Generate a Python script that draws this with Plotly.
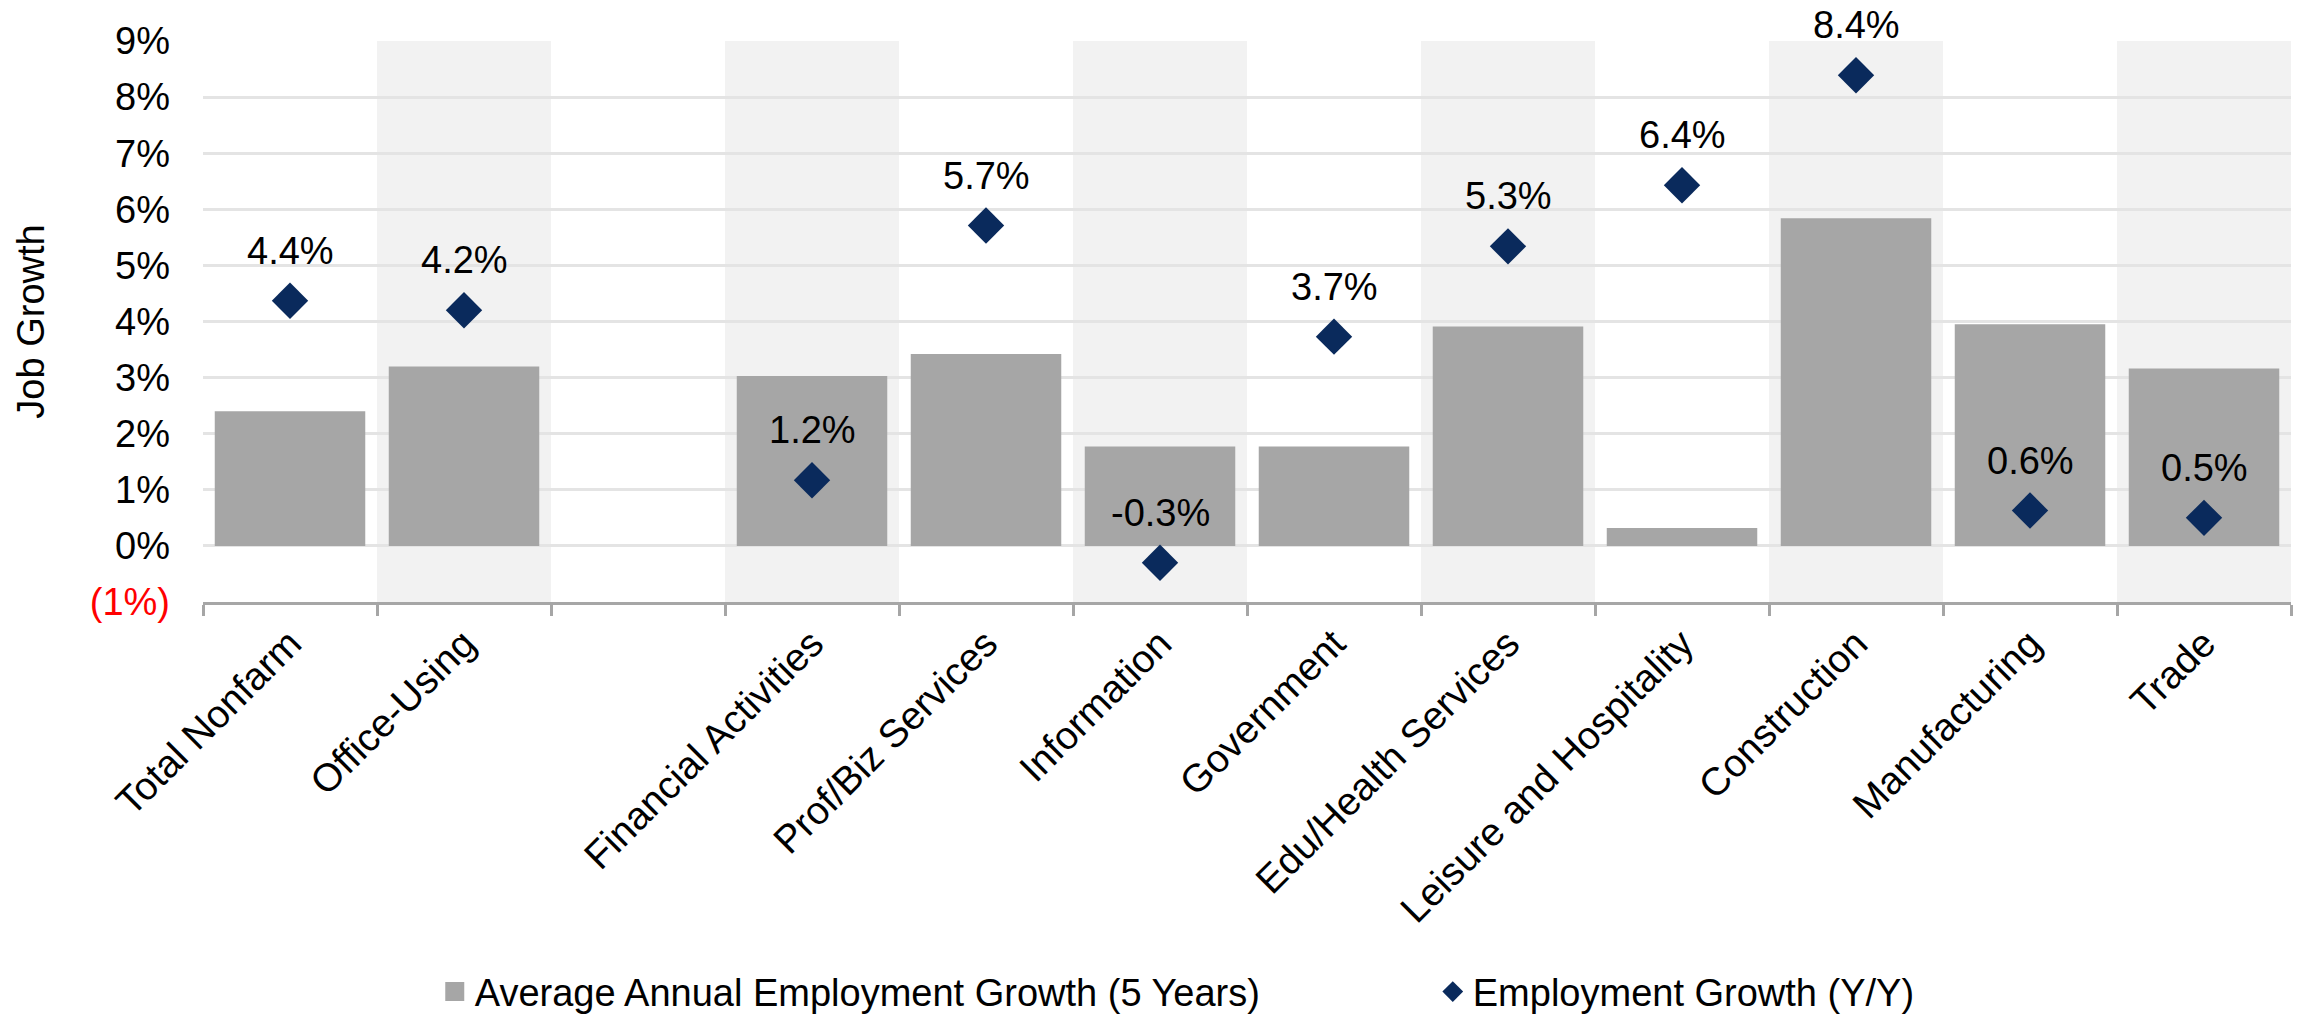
import plotly.graph_objects as go

# ---- data ----
categories = ["Total Nonfarm", "Office-Using", " ", "Financial Activities", "Prof/Biz Services",
              "Information", "Government", "Edu/Health Services", "Leisure and Hospitality",
              "Construction", "Manufacturing", "Trade"]
avg_5yr = [2.4, 3.2, None, 3.03, 3.42, 1.77, 1.77, 3.91, 0.32, 5.84, 3.95, 3.16]
yoy = [4.37, 4.2, None, 1.17, 5.71, -0.3, 3.73, 5.34, 6.43, 8.39, 0.63, 0.5]
y_tickvals = list(range(-1, 10))
y_ticktext = ["<span style='color:#FF0000'>(1%)</span>"] + [f"{v}%" for v in range(0, 10)]

bar_name = "Average Annual Employment Growth (5 Years)"
dot_name = "Employment Growth (Y/Y)"

FONT = "Liberation Sans, Arial, sans-serif"
FS = 38
FS_CAT = 39
BAR_COLOR = "#A6A6A6"
DOT_COLOR = "#0A2A5C"
AXIS_COLOR = "#A6A6A6"

n = len(categories)

fig = go.Figure()
fig.add_trace(go.Bar(x=categories, y=avg_5yr, name=bar_name, showlegend=False,
                     marker=dict(color=BAR_COLOR, line=dict(width=0))))
# legend-only entry for the bars (larger square symbol)
fig.add_trace(go.Scatter(x=[None], y=[None], mode="markers", name=bar_name,
                         marker=dict(symbol="square", size=16, color=BAR_COLOR,
                                     line=dict(color=BAR_COLOR, width=3))))
fig.add_trace(go.Scatter(x=categories, y=yoy, mode="markers", name=dot_name, cliponaxis=False,
                         marker=dict(symbol="diamond", size=28, color=DOT_COLOR, line=dict(width=0))))

# value labels above the diamonds
for c, v in zip(categories, yoy):
    if v is None:
        continue
    fig.add_annotation(x=c, y=v, text=f"{v:.1f}%", showarrow=False, yanchor="bottom",
                       yshift=27, font=dict(family=FONT, size=FS, color="#000000"))

# alternating shaded category bands
for i in range(1, n, 2):
    fig.add_shape(type="rect", xref="x", yref="y", x0=i - 0.5, x1=i + 0.5, y0=-1, y1=9,
                  fillcolor="#F2F2F2", line=dict(width=0), layer="below")

fig.update_layout(
    width=2290, height=1008,
    margin=dict(l=195, r=7, t=33, b=414, autoexpand=False),
    plot_bgcolor="#FFFFFF", paper_bgcolor="#FFFFFF",
    font=dict(family=FONT, size=FS, color="#000000"),
    bargap=0.135,
    xaxis=dict(type="category", categoryorder="array", categoryarray=categories,
               range=[-0.5, n - 0.5], tickson="boundaries", ticks="outside", ticklen=11,
               tickwidth=2.7, tickcolor=AXIS_COLOR, showline=True, linecolor=AXIS_COLOR,
               linewidth=3, tickangle=-45, showgrid=False, zeroline=False,
               tickfont=dict(family=FONT, size=FS_CAT, color="#000000")),
    xaxis2=dict(overlaying="x", anchor="y", side="bottom", range=[-0.5, n - 0.5],
                tickmode="array", tickvals=[i - 0.5 for i in range(n + 1)], ticks="inside",
                ticklen=11, tickwidth=2.7, tickcolor=AXIS_COLOR, showticklabels=False,
                showgrid=False, showline=False, zeroline=False),
    yaxis=dict(range=[-1, 9], tickmode="array", tickvals=y_tickvals, ticktext=y_ticktext,
               showgrid=True, gridcolor="#E4E4E4", gridwidth=3, zeroline=False, showline=False,
               ticks="", ticklabelstandoff=32,
               tickfont=dict(family=FONT, size=FS, color="#000000"),
               title=dict(text="Job Growth", standoff=33,
                          font=dict(family=FONT, size=FS, color="#000000"))),
    legend=dict(orientation="h", x=0.111, xanchor="left", y=-0.695, yanchor="middle",
                entrywidth=953, font=dict(family=FONT, size=FS, color="#000000"),
                bgcolor="rgba(0,0,0,0)"),
    showlegend=True,
)

fig.write_html("out.html")
